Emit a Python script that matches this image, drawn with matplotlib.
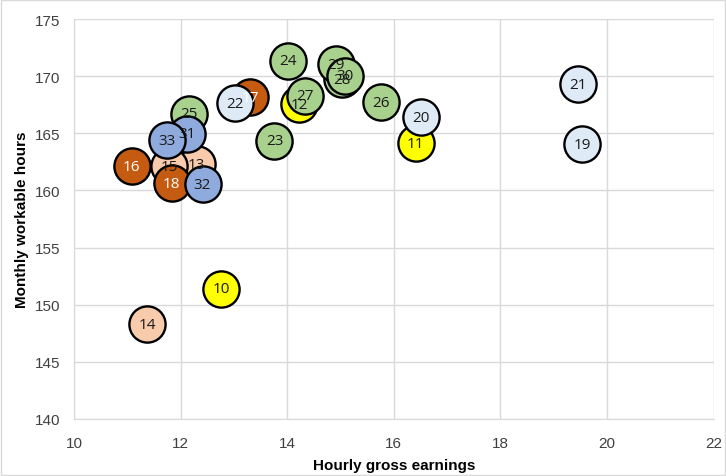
import matplotlib.pyplot as plt
from matplotlib.patches import Rectangle

plt.rcParams['font.family'] = ['Liberation Sans Narrow', 'Liberation Sans', 'DejaVu Sans']

# bubble labels, hourly earnings, monthly hours
labels = [10, 11, 12, 13, 14, 15, 16, 17, 18, 19, 20, 21, 22,
          23, 24, 25, 26, 27, 28, 29, 30, 31, 32, 33]
earnings = [12.76, 16.41, 14.22, 12.30, 11.37, 11.79, 11.08, 13.30, 11.83, 19.53, 16.51, 19.45, 13.02,
            13.76, 14.02, 12.16, 15.76, 14.33, 15.02, 14.92, 15.08, 12.12, 12.41, 11.74]
hours = [151.4, 164.15, 167.56, 162.3, 148.3, 162.1, 162.1, 168.15, 160.65, 164.06, 166.4, 169.3, 167.65,
         164.35, 171.35, 166.7, 167.7, 168.3, 169.75, 171.06, 170.04, 164.94, 160.56, 164.41]

group_colors = {
    'yellow': '#FFFF00', 'peach': '#F8CBAD', 'brown': '#C55A11',
    'lightblue': '#DEEBF7', 'green': '#A9D18E', 'blue': '#8FAADC',
}
groups = (['yellow'] * 3 + ['peach'] * 3 + ['brown'] * 3 + ['lightblue'] * 4
          + ['green'] * 8 + ['blue'] * 3)

fig = plt.figure(figsize=(7.26, 4.77), dpi=100)
ax = fig.add_axes([0.102, 0.1195, 0.881, 0.8385])

for i, (lab, x, y, g) in enumerate(zip(labels, earnings, hours, groups)):
    ax.scatter(x, y, s=680, color=group_colors[g], edgecolor='black',
               linewidth=1.7, zorder=3 + i * 0.01)
    tc = 'white' if g == 'brown' else '#1a1a1a'
    ax.text(x, y, str(lab), ha='center', va='center', fontsize=11,
            color=tc, family=['Open Sans', 'DejaVu Sans'], zorder=4)

ax.set_xlim(10, 22)
ax.set_ylim(140, 175)
ax.set_xticks(range(10, 23, 2))
ax.set_yticks(range(140, 176, 5))
ax.grid(True, color='#d9d9d9', linewidth=1)
ax.set_axisbelow(True)
for s in ['top', 'right']:
    ax.spines[s].set_visible(False)
for s in ['left', 'bottom']:
    ax.spines[s].set_color('#d9d9d9')
ax.tick_params(length=0, labelsize=11, pad=10, colors='#404040')
ax.tick_params(axis='x', pad=12)
ax.set_xlabel('Hourly gross earnings', fontsize=11, fontweight='bold', labelpad=6)
ax.set_ylabel('Monthly workable hours', fontsize=11, fontweight='bold', labelpad=4)

fig.patches.append(Rectangle((0.002, 0.002), 0.996, 0.996, transform=fig.transFigure,
                             fill=False, edgecolor='#d9d9d9', linewidth=1))

fig.savefig('out.png', dpi=100)
